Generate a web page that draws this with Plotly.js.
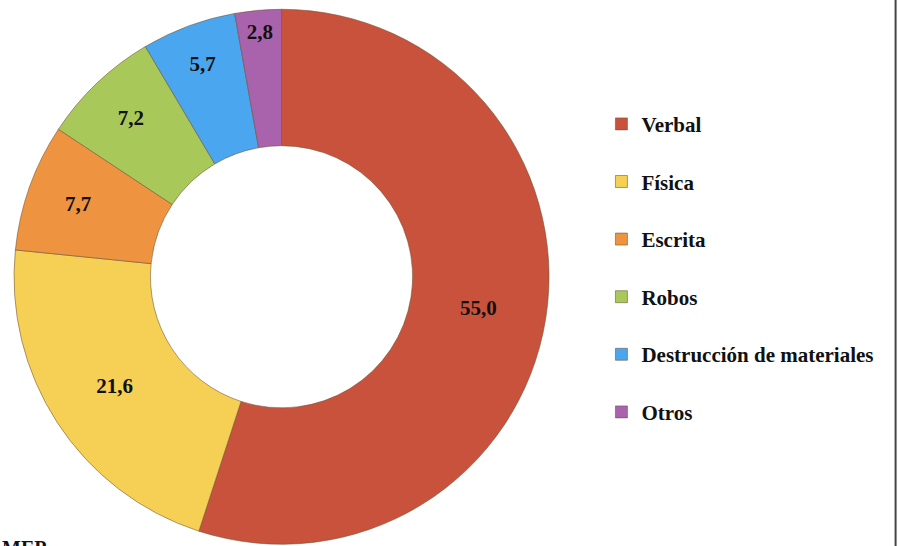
<!DOCTYPE html>
<html>
<head>
<meta charset="utf-8">
<script src="https://cdn.plot.ly/plotly-3.0.1.min.js"></script>
<style>html,body{margin:0;padding:0;background:#fff;}#chart{width:899px;height:546px;}</style>
</head>
<body>
<div id="chart"></div>
<script>
const categories = ["Verbal", "Física", "Escrita", "Robos", "Destrucción de materiales", "Otros"];
const values = [55.0, 21.6, 7.7, 7.2, 5.7, 2.8];
const colors = ["#c8523c", "#f6cf55", "#ee9440", "#a9c85a", "#4aa6ee", "#a963ad"];
const sourceNote = "MEP";

const trace = {
  type: "pie",
  labels: categories.map(c => c + "<br> "),
  values: values,
  sort: false,
  direction: "clockwise",
  rotation: 0,
  hole: 0.49,
  domain: {x: [0.0156, 0.6107], y: [0.0027, 0.9835]},
  marker: {colors: colors, line: {color: "rgba(110,80,50,0.55)", width: 1}},
  texttemplate: "%{value:.1f}",
  textposition: "inside",
  insidetextorientation: "horizontal",
  textfont: {family: "Liberation Serif, Times New Roman, serif", size: 21, color: "#111", weight: "bold"},
  hoverinfo: "label+value"
};

const layout = {
  width: 899, height: 546,
  margin: {l: 0, r: 0, t: 0, b: 0},
  paper_bgcolor: "#fff",
  separators: ",.",
  showlegend: true,
  legend: {
    x: 0.669, y: 0.81, xanchor: "left", yanchor: "top",
    valign: "top",
    font: {family: "Liberation Serif, Times New Roman, serif", size: 21, color: "#111", weight: "bold"},
    bgcolor: "rgba(0,0,0,0)"
  },
  shapes: [
    {type: "line", xref: "paper", yref: "paper", x0: 0.9962, x1: 0.9962, y0: 0, y1: 1,
     line: {color: "#444", width: 2}}
  ],
  annotations: [
    {text: sourceNote, xref: "paper", yref: "paper", x: 0.0, y: 0.02, xanchor: "left", yanchor: "top",
     showarrow: false, font: {family: "Liberation Serif, Times New Roman, serif", size: 20, color: "#111", weight: "bold"}}
  ]
};

Plotly.newPlot("chart", [trace], layout, {displayModeBar: false, staticPlot: true});
</script>
</body>
</html>
